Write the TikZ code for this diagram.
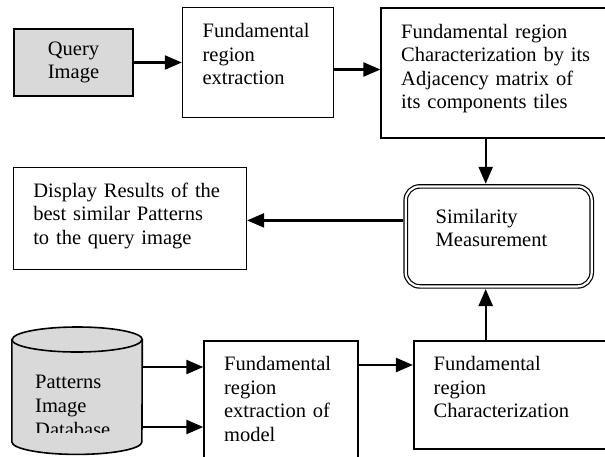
\documentclass[tikz,border=0pt]{standalone}
\usepackage{fontspec}
\setmainfont{Liberation Serif}
\usepackage{tikz}
\usetikzlibrary{shapes.geometric, arrows.meta, positioning, calc}
\definecolor{boxgray}{RGB}{217,217,217}
\tikzset{
  box/.style={rectangle, draw=black, line width=1.6pt, fill=white, align=left, inner xsep=20pt, inner ysep=0pt, text height=30pt, font=\fontsize{20.5}{23.5}\selectfont},
  graybox/.style={rectangle, draw=black, line width=1.6pt, fill=boxgray, align=center, font=\fontsize{20.5}{23.5}\selectfont},
  dblbox/.style={rectangle, rounded corners=14pt, draw=black, double, double distance=2.2pt, line width=1.2pt, align=left, inner xsep=30pt, inner ysep=0pt, text height=37pt, font=\fontsize{20.5}{23.5}\selectfont},
  dbase/.style={rectangle, minimum width=130pt, minimum height=102pt, inner sep=0pt},
  arrow/.style={line width=2.3pt, -{Triangle[length=17pt, width=14pt]}}
}
\begin{document}
\begin{tikzpicture}[x=1pt, y=1pt]
\clip (0,0) rectangle (605,-456);

% Query side
\node (query) [graybox, minimum width=119pt, minimum height=67pt] at (73.5,-62.5) {Query\\Image};
\node (fre) [box, text width=111pt, text depth=80pt, right=48pt of query] {Fundamental\\region\\extraction};
\node (frchar) [box, text width=198pt, text depth=100pt, right=46pt of fre, yshift=-10.5pt] {Fundamental region\\Characterization by its\\Adjacency matrix of\\its components tiles};

% Matching and results
\node (simil) [dblbox, text width=126pt, minimum width=186pt, text depth=63pt, below=47pt of frchar, xshift=-1.5pt] {Similarity\\Measurement};
\node (display) [box, text width=193pt, text depth=72pt, left=158pt of simil, yshift=18pt] {Display Results of the\\best similar Patterns\\to the query image};

% Model side
\node (frc) [box, text width=160pt, text depth=78pt, below=53pt of simil, xshift=15pt] {Fundamental\\region\\Characterization};
\node (frem) [box, text width=114pt, text depth=94pt, left=54pt of frc.north west, anchor=north east] {Fundamental\\region\\extraction of\\model};

% Database cylinder
\node (db) [dbase, left=61pt of frem.north west, anchor=north east, yshift=0.5pt] {};
\draw [line width=1.6pt, fill=boxgray] (db.north west) -- (db.south west) arc (180:360:65pt and 12.5pt) -- (db.north east) arc (0:180:65pt and 12.5pt) -- cycle;
\draw [line width=1.6pt] (db.north west) arc (180:360:65pt and 12.5pt);
\begin{scope}
  \clip (14,-350) rectangle (144,-432);
  \node (dbtext) [align=left, inner sep=0pt, anchor=base west, font=\fontsize{20.5}{24}\selectfont] at (35,-436) {Patterns\\Image\\Database};
\end{scope}

% Connectors
\draw [arrow] (query) -- (fre);
\draw [arrow] ([yshift=-7pt]fre.east) -- ([yshift=-7pt]fre.east -| frchar.west);
\draw [arrow, shorten >=2pt] ([xshift=-13pt]simil.north |- frchar.south) -- ([xshift=-13pt]simil.north);
\draw [arrow, shorten <=2pt] ([yshift=16pt]simil.west) -- ([yshift=16pt]simil.west -| display.east);
\draw [arrow, shorten >=2pt] ([xshift=-13pt]simil.south |- frc.north) -- ([xshift=-13pt]simil.south);
\draw [arrow] ([yshift=-25pt]frc.north west -| frem.east) -- ([yshift=-25pt]frc.north west);
\draw [arrow] ([yshift=-27pt]frem.north west -| db.east) -- ([yshift=-27pt]frem.north west);
\draw [arrow] ([yshift=-87pt]frem.north west -| db.east) -- ([yshift=-87pt]frem.north west);

\end{tikzpicture}
\end{document}
